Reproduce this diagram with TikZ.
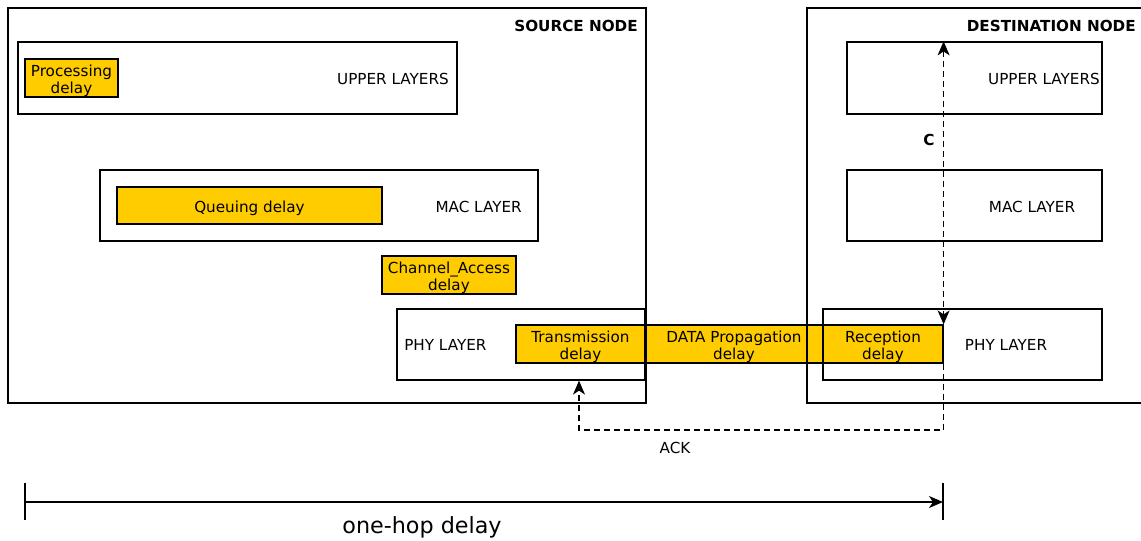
\documentclass[tikz,border=0pt]{standalone}
\usepackage{fontspec}
\setmainfont{DejaVu Sans}
\usetikzlibrary{arrows.meta}
\definecolor{dyellow}{HTML}{FFCC00}
\newcommand\mfs{\fontsize{11.4pt}{12.9pt}\selectfont}
\begin{document}
\begin{tikzpicture}[x=0.75pt,y=-0.75pt,
  box/.style={draw,line width=0.9pt,inner sep=0pt},
  sz/.style 2 args={minimum width=#1*0.75pt,minimum height=#2*0.75pt},
  dly/.style={box,fill=dyellow},
  lbl/.style={inner sep=0pt,font=\mfs},
  dtx/.style={lbl,align=center,yshift=-2.5*0.75pt},
  ttl/.style={inner sep=0pt,font=\mfs\bfseries},
  tip/.style={-{Stealth[length=10.5pt,width=9pt,inset=3pt]}},
  tips/.style={{Stealth[length=10.5pt,width=9pt,inset=3pt]}-{Stealth[length=10.5pt,width=9pt,inset=3pt]}},
  dsh/.style={line width=0.9pt,dash pattern=on 4.5pt off 3pt}]
\clip (0,0) rectangle (1141,540);
% delay boxes
\node[dly,sz={93}{38}] (proc) at (71.5,78) {};
\node[dtx] (procT) at (proc) {Processing\\delay};
\node[dly,sz={265}{37}] (queue) at (249.5,205.5) {};
\node[dtx] (queueT) at (queue) {Queuing delay};
\node[dly,sz={134}{38}] (chan) at (449,275) {};
\node[dtx] (chanT) at (chan) {Channel\_Access\\delay};
\node[dly,sz={129}{38}] (trans) at (580.5,344) {};
\node[dtx] (transT) at (trans) {Transmission\\delay};
\node[dly,sz={178}{38}] (prop) at (734,344) {};
\node[dtx] (propT) at (prop) {DATA Propagation\\delay};
\node[dly,sz={120}{38}] (recep) at (883,344) {};
\node[dtx] (recepT) at (recep) {Reception\\delay};
% containers
\node[box,sz={638}{395}] (src) at (327,205.5) {};
\node[box,sz={439}{72}] (srcUp) at (237.5,78) {};
\node[box,sz={438}{71}] (srcMac) at (319,205.5) {};
\node[box,sz={248}{71}] (srcPhy) at (521,344.5) {};
\node[box,sz={360}{395}] (dst) at (987,205.5) {};
\node[box,sz={255}{72}] (dstUp) at (974.5,78) {};
\node[box,sz={255}{71}] (dstMac) at (974.5,205.5) {};
\node[box,sz={279}{71}] (dstPhy) at (962.5,344.5) {};
% labels
\node[ttl,anchor=east] (srcT) at (638,26) {SOURCE NODE};
\node[ttl,anchor=east] (dstT) at (1136,26) {DESTINATION NODE};
\node[lbl,anchor=east] (srcUpT) at (449,79) {UPPER LAYERS};
\node[lbl,anchor=east] (srcMacT) at (522,207) {MAC LAYER};
\node[lbl,anchor=west] (srcPhyT) at (404,345) {PHY LAYER};
\node[lbl,anchor=east] (dstUpT) at (1100,79) {UPPER LAYERS};
\node[lbl] (dstMacT) at (1032,207) {MAC LAYER};
\node[lbl] (dstPhyT) at (1006,345) {PHY LAYER};
\node[ttl] (C) at (929,140) {C};
\node[lbl] (ack) at (675,448) {ACK};
% connectors
\draw[dsh,tips] (recep.north east |- dstUp.north) -- (recep.north east);
\coordinate (ackc) at (0,430);
\draw[dsh,tip] (recep.south east) -- (recep.south east |- ackc) -| ([xshift=-1.5*0.75pt]trans.south |- srcPhy.south);
% one-hop delay
\coordinate (L) at (25,502);
\coordinate (R) at (943,502);
\draw[line width=0.9pt,tip] (L) -- (R);
\draw[line width=1.9pt] ([yshift=-18*0.75pt]L) -- ([yshift=19*0.75pt]L);
\draw[line width=1.9pt] ([yshift=-18*0.75pt]R) -- ([yshift=19*0.75pt]R);
\node[inner sep=0pt,font=\fontsize{16.7pt}{19pt}\selectfont] (oh) at (422,527) {one-hop delay};
\end{tikzpicture}
\end{document}
